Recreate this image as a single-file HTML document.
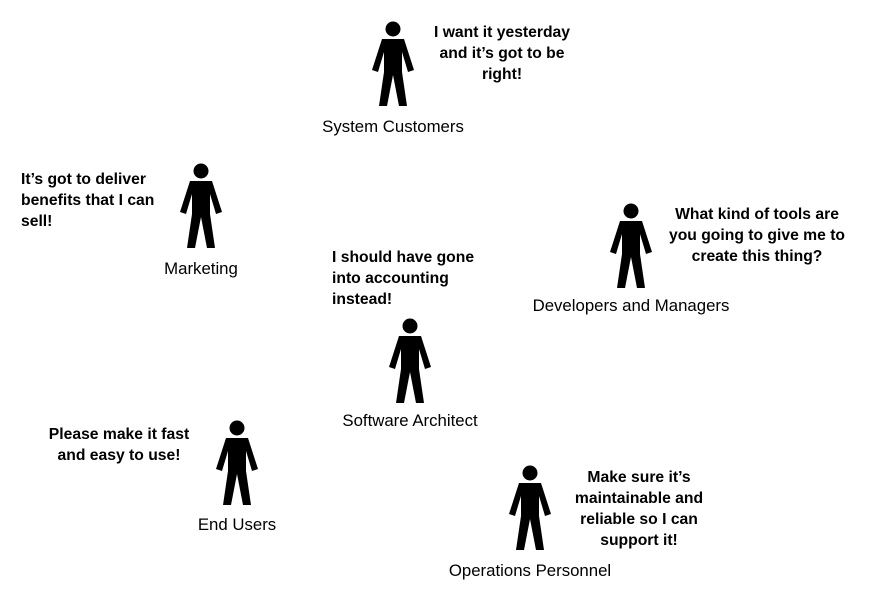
<!DOCTYPE html>
<html><head><style>
body{margin:0;width:873px;height:605px;background:#fff;position:relative;overflow:hidden;font-family:"Liberation Sans",Arial,sans-serif;}
.q{position:absolute;font-weight:bold;font-size:15.7px;line-height:21px;color:#000;white-space:nowrap}
.c{text-align:center;transform:translateX(-50%)}
.l{position:absolute;font-size:16.8px;color:#000;white-space:nowrap;transform:translateX(-50%)}
svg{position:absolute;left:0;top:0}
</style></head><body>
<svg width="873" height="605">
<defs>
<g id="p">
<circle cx="0" cy="8" r="7.5"/>
<path d="M-11,18 L11,18 L21,49 L15,51 L9,31 L9,51 L14,85 L6,85 L0,54 L-6,85 L-14,85 L-9,51 L-9,31 L-15,51 L-21,49 Z"/>
</g>
</defs>
<use href="#p" x="393" y="21"/>
<use href="#p" x="201" y="163"/>
<use href="#p" x="631" y="203"/>
<use href="#p" x="410" y="318"/>
<use href="#p" x="237" y="420"/>
<use href="#p" x="530" y="465"/>
</svg>
<div class="q c" style="left:502px;top:22px">I want it yesterday<br>and it’s got to be<br>right!</div>
<div class="q" style="left:21px;top:169px">It’s got to deliver<br>benefits that I can<br>sell!</div>
<div class="q c" style="left:757px;top:204px">What kind of tools are<br>you going to give me to<br>create this thing?</div>
<div class="q" style="left:332px;top:247px">I should have gone<br>into accounting<br>instead!</div>
<div class="q c" style="left:119px;top:424px">Please make it fast<br>and easy to use!</div>
<div class="q c" style="left:639px;top:467px">Make sure it’s<br>maintainable and<br>reliable so I can<br>support it!</div>
<div class="l" style="left:393px;top:117px">System Customers</div>
<div class="l" style="left:201px;top:259px">Marketing</div>
<div class="l" style="left:631px;top:296px">Developers and Managers</div>
<div class="l" style="left:410px;top:411px">Software Architect</div>
<div class="l" style="left:237px;top:515px">End Users</div>
<div class="l" style="left:530px;top:561px">Operations Personnel</div>
</body></html>
